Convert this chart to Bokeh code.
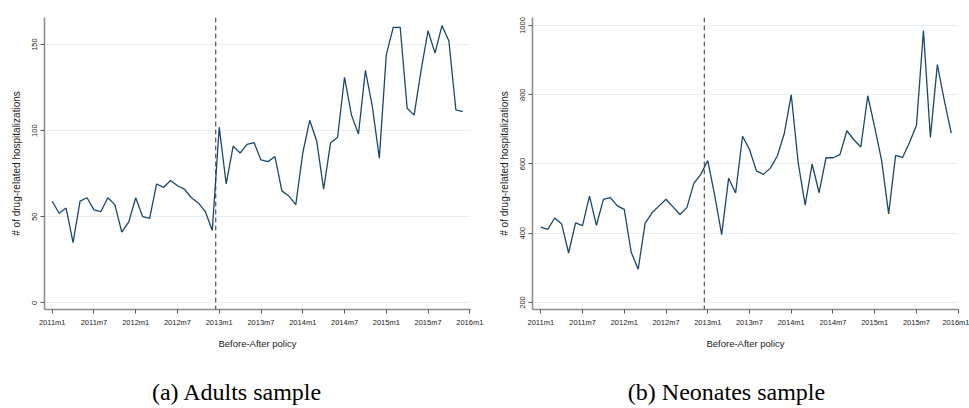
from bokeh.plotting import figure
from bokeh.layouts import column, row
from bokeh.models import Range1d, FixedTicker, Span
from bokeh.core.properties import value
from bokeh.embed import file_html
from bokeh.resources import INLINE

# months since 2011m1
months = list(range(60))
tick_months = [0, 6, 12, 18, 24, 30, 36, 42, 48, 54, 60]
tick_labels = ["2011m1", "2011m7", "2012m1", "2012m7", "2013m1", "2013m7",
               "2014m1", "2014m7", "2015m1", "2015m7", "2016m1"]
policy_break = 23.5

adults = [59, 52, 55, 35, 59, 61, 54, 53, 61, 57,
          41, 47, 61, 50, 49, 69, 67, 71, 68, 66,
          61, 58, 53, 42, 102, 69, 91, 87, 92, 93,
          83, 82, 85, 65, 62, 57, 87, 106, 94, 66,
          93, 96, 131, 109, 98, 135, 114, 84, 144, 160,
          160, 113, 109, 135, 158, 145, 161, 152, 112, 111]
adults_yticks = [0, 50, 100, 150]

neonates = [418, 411, 444, 427, 343, 430, 422, 507, 423, 498,
            503, 479, 469, 345, 296, 429, 459, 479, 498, 476,
            454, 474, 544, 570, 610, 509, 396, 559, 516, 680,
            642, 580, 570, 588, 623, 688, 800, 603, 481, 600,
            517, 618, 618, 627, 696, 670, 649, 797, 706, 609,
            456, 625, 619, 662, 712, 985, 677, 887, 784, 689]
neonates_yticks = [200, 400, 600, 800, 1000]

y_title = "# of drug-related hospitalizations"
x_title = "Before-After policy"
captions = ["(a) Adults sample", "(b) Neonates sample"]
caption_x = [236.7, 726]

LINE = "#1a476f"
SANS = "Liberation Sans"


def panel(vals, yticks, width, bl, br, xr, yr):
    p = figure(width=width, height=365, output_backend="svg", toolbar_location=None,
               x_range=Range1d(*xr), y_range=Range1d(*yr), title=None,
               min_border_left=bl, min_border_right=br, min_border_top=17,
               min_border_bottom=56)
    p.outline_line_color = None
    p.background_fill_color = "white"
    p.border_fill_color = "white"
    p.xgrid.visible = False
    p.ygrid.grid_line_color = "#e6eff1"
    p.ygrid.grid_line_width = 1
    p.line(months, vals, line_color=LINE, line_width=1.3)
    p.add_layout(Span(location=policy_break, dimension="height",
                      line_color="#333333", line_dash="5 3", line_width=1))

    p.xaxis.ticker = FixedTicker(ticks=tick_months, minor_ticks=[])
    p.xaxis.major_label_overrides = {m: l for m, l in zip(tick_months, tick_labels)}
    p.yaxis.ticker = FixedTicker(ticks=yticks, minor_ticks=[])
    p.yaxis.major_label_orientation = "parallel"
    p.xaxis.axis_label = x_title
    p.yaxis.axis_label = y_title
    for ax in (p.xaxis, p.yaxis):
        ax.axis_line_color = "#8c8c8c"
        ax.axis_line_width = 1.5
        ax.major_tick_line_color = "#555555"
        ax.major_tick_out = 4
        ax.major_tick_in = 0
        ax.minor_tick_out = 0
        ax.minor_tick_in = 0
        ax.major_label_text_font = SANS
        ax.major_label_text_font_size = "7.5px"
        ax.major_label_text_color = "#222222"
        ax.axis_label_text_font = SANS
        ax.axis_label_text_font_style = "normal"
        ax.axis_label_text_color = "#222222"
    p.xaxis.major_label_standoff = 4
    p.xaxis.axis_label_text_font_size = "9.5px"
    p.xaxis.axis_label_standoff = 8
    p.yaxis.major_label_standoff = 3
    p.yaxis.axis_label_text_font_size = "10px"
    p.yaxis.axis_label_standoff = 8
    return p


p1 = panel(adults, adults_yticks, 485, 44, 15, (-1.106, 60.1), (-3.9, 165.7))
p2 = panel(neonates, neonates_yticks, 484, 47, 11, (-1.19, 60.04), (179.8, 1023))

cap = figure(width=969, height=43, output_backend="svg", toolbar_location=None,
             x_range=Range1d(0, 969), y_range=Range1d(0, 43), title=None,
             x_axis_location=None, y_axis_location=None, min_border=0)
cap.outline_line_color = None
cap.grid.visible = False
cap.text(x=caption_x, y=[17, 17], text=captions,
         text_font=value("Liberation Serif"), text_font_size="24px",
         text_align="center", text_baseline="middle", text_color="black")

layout = column(row(p1, p2), cap)
open("out.html", "w").write(file_html(layout, INLINE))
